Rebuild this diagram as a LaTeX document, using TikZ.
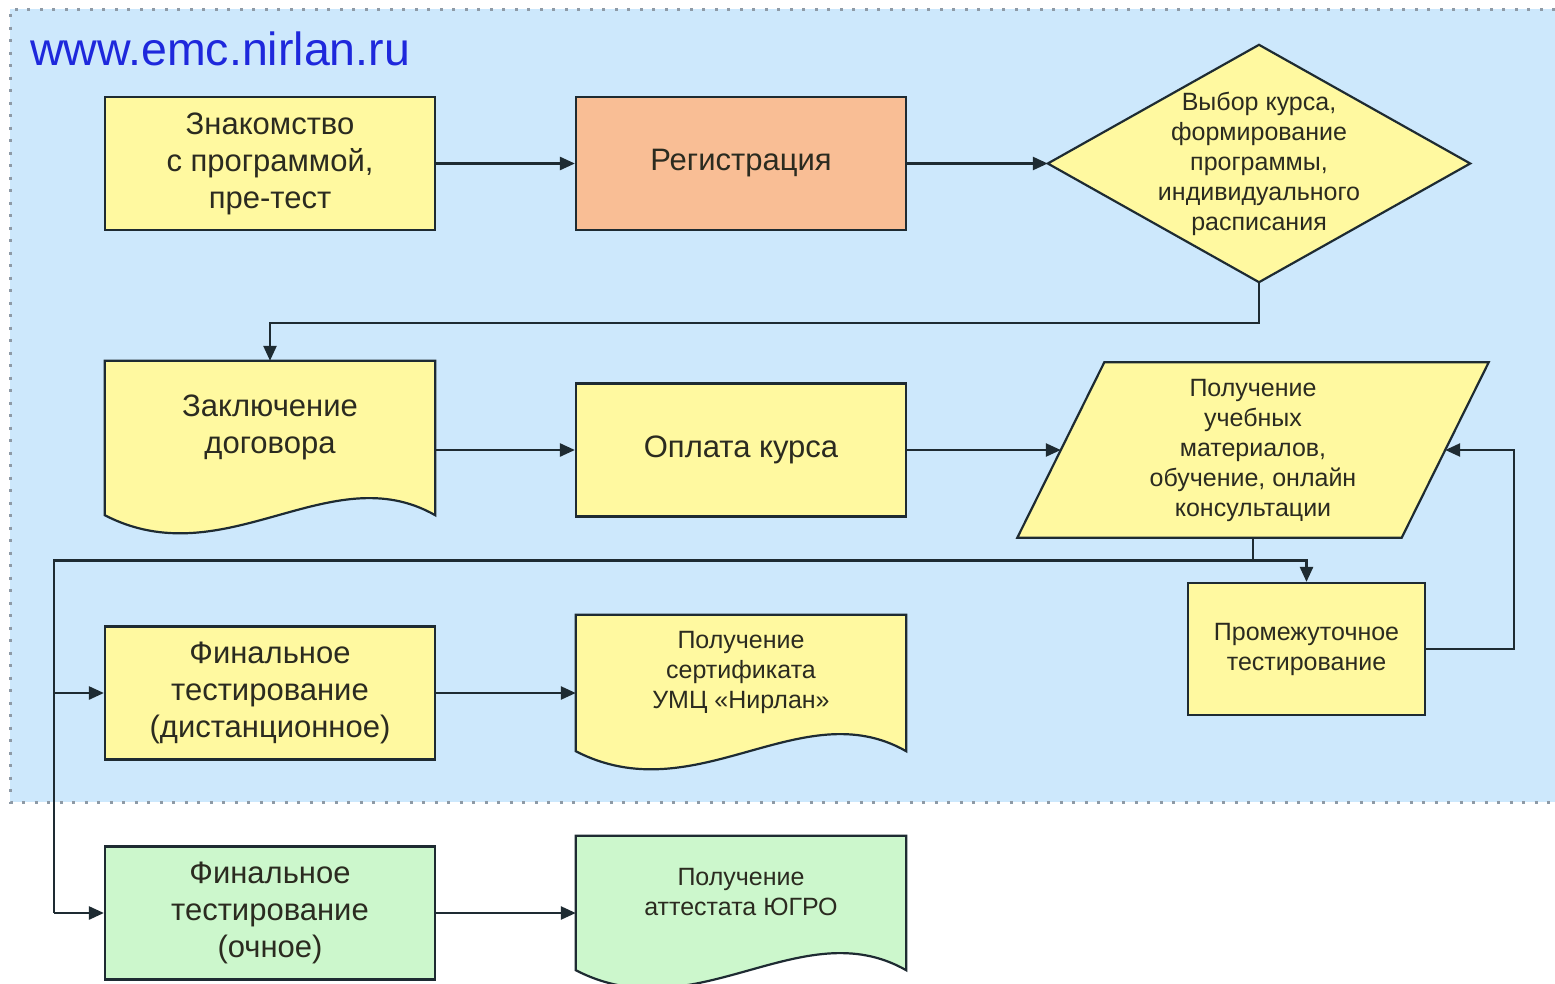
\documentclass[tikz,border=0pt]{standalone}
\usepackage{fontspec}
\setmainfont{Liberation Sans}
\usetikzlibrary{arrows.meta,calc}
\definecolor{bgblue}{HTML}{CDE8FC}
\definecolor{boxyellow}{HTML}{FFF9A0}
\definecolor{boxorange}{HTML}{F9BE95}
\definecolor{boxgreen}{HTML}{CCF7CC}
\definecolor{edge}{HTML}{1E2B32}
\definecolor{txt}{HTML}{2B2B20}
\definecolor{titleblue}{HTML}{1E28DC}
\definecolor{dotgray}{HTML}{8E9AA6}
\pgfdeclarelayer{bglayer}
\pgfdeclarelayer{shapelayer}
\pgfsetlayers{bglayer,shapelayer,main}
\tikzset{
  big/.style={font=\fontsize{31}{37}\selectfont},
  small/.style={font=\fontsize{25}{30}\selectfont},
  box/.style={draw=edge, line width=2.2pt, fill=boxyellow, minimum width=330pt, minimum height=133pt, inner sep=0pt, align=center, text=txt, big},
  plain/.style={draw=none, fill=none, inner sep=0pt, align=center, text=txt},
  outline/.style={draw=edge, line width=2.2pt},
  conn/.style={draw=edge, line width=2.5pt},
  arr/.style={conn, -{Triangle[length=15pt,width=13pt]}},
}
\begin{document}
\begin{tikzpicture}[x=1pt, y=-1pt]
\useasboundingbox (0,0) rectangle (1555,983);
\begin{pgfonlayer}{bglayer}
  \fill[white] (0,0) rectangle (1555,983);
  \fill[bgblue] (10,9) rectangle (1555,802);
  \draw[dotgray, line width=3pt, dash pattern=on 3pt off 9.5pt] (1555,9) -- (10,9) -- (10,802) -- (1555,802);
\end{pgfonlayer}

\node[anchor=base west, text=titleblue, font=\fontsize{46.5}{50}\selectfont, inner sep=0pt] (title) at (30,65) {www.emc.nirlan.ru};

% row 1
\node[box] (zn) at (270,163.5) {Знакомство\\с программой,\\пре-тест};
\node[box, fill=boxorange] (reg) at (741,163.5) {Регистрация};
\node[plain, small, minimum width=422pt, minimum height=237pt] (dia) at (1259,163.5) {Выбор курса,\\формирование\\программы,\\индивидуального\\расписания};

% row 2
\node[plain, big, minimum width=330pt, minimum height=132pt] (dog) at (270,427) {Заключение\\договора};
\node[box] (opl) at (741,450) {Оплата курса};
\node[plain, small, minimum width=384pt, minimum height=175pt] (par) at (1253,450) {Получение\\учебных\\материалов,\\обучение, онлайн\\консультации};

% row 3
\node[box, small, minimum width=237pt, minimum height=132pt] (pro) at (1306.5,649) {Промежуточное\\тестирование};
\node[box] (fin1) at (270,693) {Финальное\\тестирование\\(дистанционное)};
\node[plain, small, minimum width=330pt, minimum height=114pt] (cert) at (741,672) {Получение\\сертификата\\УМЦ «Нирлан»};

% row 4
\node[box, fill=boxgreen] (fin2) at (270,913) {Финальное\\тестирование\\(очное)};
\node[plain, small, minimum width=330pt, minimum height=112pt] (att) at (741,892) {Получение\\аттестата ЮГРО};

\begin{pgfonlayer}{shapelayer}
  \path[outline, fill=boxyellow] (dia.west) -- (dia.north) -- (dia.east) -- (dia.south) -- cycle;
  \path[outline, fill=boxyellow] ([xshift=43.5pt]par.north west) -- ([xshift=43.5pt]par.north east) -- ([xshift=-43.5pt]par.south east) -- ([xshift=-43.5pt]par.south west) -- cycle;
  \path[outline, fill=boxyellow] (dog.north west) -- (dog.north east) -- ([yshift=-22pt]dog.south east) .. controls +(-105,-60) and +(120,62) .. ([yshift=-22pt]dog.south west) -- cycle;
  \path[outline, fill=boxyellow] (cert.north west) -- (cert.north east) -- ([yshift=-22pt]cert.south east) .. controls +(-105,-60) and +(120,62) .. ([yshift=-22pt]cert.south west) -- cycle;
  \path[outline, fill=boxgreen] (att.north west) -- (att.north east) -- ([yshift=-22pt]att.south east) .. controls +(-105,-60) and +(120,62) .. ([yshift=-22pt]att.south west) -- cycle;
\end{pgfonlayer}

% connectors
\draw[arr] (zn.east) -- (reg.west);
\draw[arr] (reg.east) -- (dia.west);
\draw[arr] (dia.south) -- ++(0,41) -| (dog.north);
\draw[arr] (opl.west -| dog.east) -- (opl.west);
\draw[arr] (opl.east) -- (par.west);
\draw[conn] (par.south) -- ++(0,23) coordinate (split);
\draw[arr] (split) -| (pro.north);
\draw[conn] (split) -| ([xshift=-50pt]fin2.west);
\draw[arr] ([xshift=-50pt]fin1.west) -- (fin1.west);
\draw[arr] ([xshift=-50pt]fin2.west) -- (fin2.west);
\draw[arr] (pro.east) -- ++(88,0) |- (par.east);
\draw[arr] (fin1.east) -- (fin1.east -| cert.west);
\draw[arr] (fin2.east) -- (fin2.east -| att.west);
\end{tikzpicture}
\end{document}
